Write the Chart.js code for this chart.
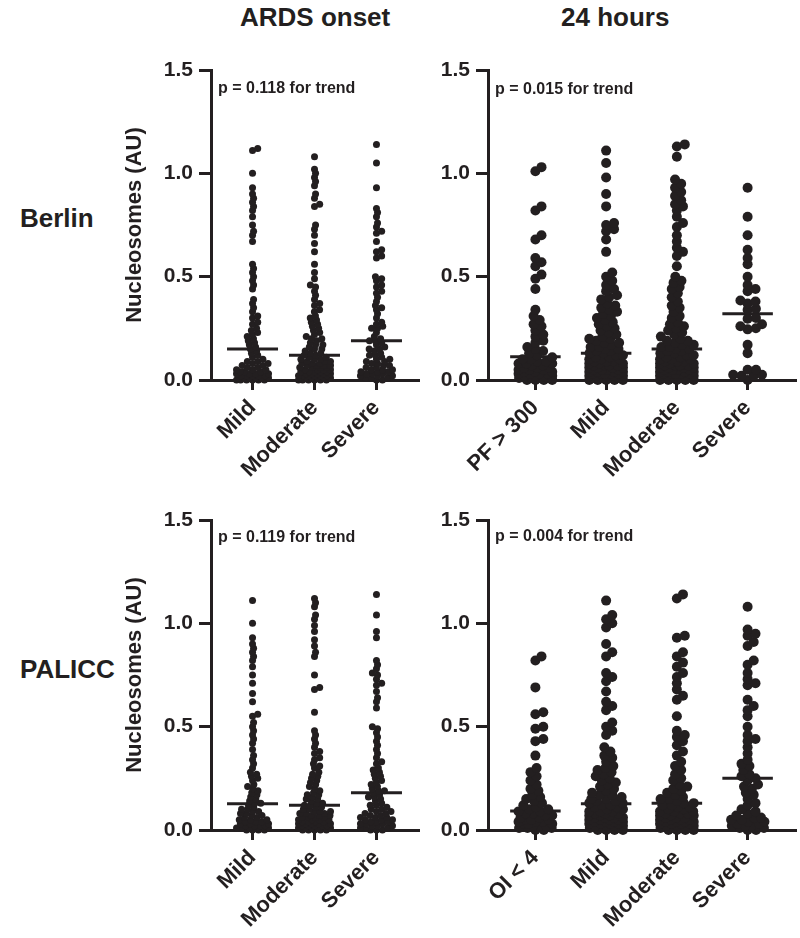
<!DOCTYPE html>
<html>
<head>
<meta charset="utf-8">
<script src="https://cdn.jsdelivr.net/npm/chart.js@4.4.1/dist/chart.umd.min.js"></script>
<style>
  body { margin: 0; background: #fff; width: 800px; height: 938px; position: relative; overflow: hidden;
         font-family: "Liberation Sans", Arial, sans-serif; color: #231f20; }
  .box { position: absolute; }
  .lbl { position: absolute; font-weight: bold; white-space: nowrap; line-height: 1; }
  .big { font-size: 26px; }
  .pv { font-size: 16px; }
</style>
</head>
<body>
<div class="lbl big" style="left:240px; top:4px;">ARDS onset</div>
<div class="lbl big" style="left:561px; top:4px;">24 hours</div>
<div class="lbl big" style="left:20px; top:205px;">Berlin</div>
<div class="lbl big" style="left:20px; top:656px;">PALICC</div>

<div class="box" style="left:100px; top:50px;"><canvas id="c1" width="330" height="440"></canvas></div>
<div class="box" style="left:380px; top:50px;"><canvas id="c2" width="420" height="440"></canvas></div>
<div class="box" style="left:100px; top:500px;"><canvas id="c3" width="330" height="440"></canvas></div>
<div class="box" style="left:380px; top:500px;"><canvas id="c4" width="420" height="440"></canvas></div>

<div class="lbl pv" style="left:218px; top:80px;">p = 0.118 for trend</div>
<div class="lbl pv" style="left:495px; top:81px;">p = 0.015 for trend</div>
<div class="lbl pv" style="left:218px; top:529px;">p = 0.119 for trend</div>
<div class="lbl pv" style="left:495px; top:528px;">p = 0.004 for trend</div>

<script>
const yTicks = [0, 0.5, 1.0, 1.5];
const onsetCats = ['Mild', 'Moderate', 'Severe'];
const pfCats = ['PF > 300', 'Mild', 'Moderate', 'Severe'];
const oiCats = ['OI < 4', 'Mild', 'Moderate', 'Severe'];

// Berlin, ARDS onset
const berlinOnsetMild = [1.12, 1.11, 1.00, 0.93, 0.90, 0.88, 0.86, 0.84, 0.82, 0.79, 0.75, 0.72, 0.70, 0.67, 0.56, 0.54, 0.52, 0.50, 0.48, 0.46, 0.44, 0.39, 0.37, 0.35, 0.33, 0.31, 0.30, 0.28, 0.27, 0.25, 0.24, 0.23, 0.22, 0.21, 0.20, 0.19, 0.18, 0.17, 0.16, 0.15, 0.14, 0.13, 0.12, 0.11, 0.10, 0.09, 0.09, 0.08, 0.08, 0.07, 0.07, 0.06, 0.06, 0.05, 0.05, 0.05, 0.04, 0.04, 0.04, 0.03, 0.03, 0.03, 0.03, 0.02, 0.02, 0.02, 0.02, 0.02, 0.01, 0.01, 0.01, 0.01, 0.01, 0.01, 0.00, 0.00, 0.00, 0.00, 0.00, 0.00];
const berlinOnsetModerate = [1.08, 1.02, 1.00, 0.98, 0.96, 0.94, 0.90, 0.88, 0.85, 0.84, 0.75, 0.73, 0.70, 0.66, 0.62, 0.56, 0.52, 0.49, 0.46, 0.45, 0.43, 0.41, 0.39, 0.37, 0.36, 0.34, 0.33, 0.31, 0.30, 0.29, 0.28, 0.27, 0.26, 0.25, 0.24, 0.23, 0.22, 0.21, 0.20, 0.20, 0.19, 0.18, 0.17, 0.17, 0.16, 0.15, 0.15, 0.14, 0.13, 0.13, 0.12, 0.12, 0.11, 0.11, 0.10, 0.10, 0.10, 0.09, 0.09, 0.09, 0.08, 0.08, 0.08, 0.07, 0.07, 0.07, 0.07, 0.06, 0.06, 0.06, 0.06, 0.05, 0.05, 0.05, 0.05, 0.04, 0.04, 0.04, 0.04, 0.04, 0.03, 0.03, 0.03, 0.03, 0.03, 0.02, 0.02, 0.02, 0.02, 0.02, 0.02, 0.01, 0.01, 0.01, 0.01, 0.01, 0.01, 0.00, 0.00, 0.00, 0.00, 0.00, 0.00];
const berlinOnsetSevere = [1.14, 1.05, 0.93, 0.83, 0.81, 0.79, 0.76, 0.74, 0.72, 0.71, 0.67, 0.63, 0.62, 0.60, 0.59, 0.50, 0.49, 0.48, 0.46, 0.45, 0.43, 0.42, 0.40, 0.38, 0.36, 0.35, 0.34, 0.32, 0.30, 0.28, 0.27, 0.26, 0.25, 0.25, 0.23, 0.21, 0.20, 0.19, 0.19, 0.18, 0.17, 0.16, 0.15, 0.15, 0.14, 0.13, 0.12, 0.12, 0.11, 0.10, 0.10, 0.09, 0.09, 0.08, 0.08, 0.07, 0.07, 0.06, 0.06, 0.05, 0.05, 0.05, 0.04, 0.04, 0.04, 0.03, 0.03, 0.03, 0.02, 0.02, 0.02, 0.01, 0.01, 0.01, 0.00, 0.00];
const berlinOnsetMedians = [0.15, 0.12, 0.19];

// Berlin, 24 hours
const berlin24Pf = [1.03, 1.01, 0.84, 0.82, 0.70, 0.68, 0.59, 0.57, 0.55, 0.51, 0.49, 0.44, 0.34, 0.31, 0.29, 0.27, 0.26, 0.24, 0.22, 0.21, 0.19, 0.18, 0.16, 0.15, 0.14, 0.13, 0.12, 0.11, 0.10, 0.10, 0.09, 0.09, 0.08, 0.08, 0.08, 0.07, 0.07, 0.06, 0.06, 0.06, 0.05, 0.05, 0.05, 0.04, 0.04, 0.04, 0.03, 0.03, 0.03, 0.03, 0.02, 0.02, 0.02, 0.02, 0.01, 0.01, 0.01, 0.01, 0.00, 0.00, 0.00, 0.00];
const berlin24Mild = [1.11, 1.05, 0.98, 0.90, 0.84, 0.76, 0.75, 0.73, 0.72, 0.68, 0.62, 0.52, 0.50, 0.48, 0.46, 0.44, 0.43, 0.41, 0.40, 0.39, 0.37, 0.36, 0.35, 0.34, 0.33, 0.32, 0.31, 0.30, 0.29, 0.28, 0.27, 0.26, 0.25, 0.24, 0.23, 0.22, 0.21, 0.20, 0.20, 0.19, 0.18, 0.18, 0.17, 0.16, 0.16, 0.15, 0.15, 0.14, 0.14, 0.13, 0.13, 0.12, 0.12, 0.11, 0.11, 0.10, 0.10, 0.10, 0.09, 0.09, 0.09, 0.08, 0.08, 0.08, 0.07, 0.07, 0.07, 0.07, 0.06, 0.06, 0.06, 0.06, 0.05, 0.05, 0.05, 0.05, 0.04, 0.04, 0.04, 0.04, 0.03, 0.03, 0.03, 0.03, 0.03, 0.02, 0.02, 0.02, 0.02, 0.02, 0.01, 0.01, 0.01, 0.01, 0.01, 0.00, 0.00, 0.00, 0.00, 0.00];
const berlin24Moderate = [1.14, 1.13, 1.08, 0.97, 0.95, 0.93, 0.91, 0.89, 0.87, 0.85, 0.84, 0.82, 0.79, 0.76, 0.74, 0.70, 0.67, 0.64, 0.62, 0.60, 0.55, 0.50, 0.48, 0.47, 0.45, 0.44, 0.42, 0.40, 0.38, 0.36, 0.35, 0.33, 0.31, 0.30, 0.28, 0.27, 0.26, 0.25, 0.24, 0.23, 0.22, 0.21, 0.20, 0.19, 0.19, 0.18, 0.17, 0.17, 0.16, 0.16, 0.15, 0.15, 0.14, 0.14, 0.13, 0.13, 0.12, 0.12, 0.11, 0.11, 0.10, 0.10, 0.10, 0.09, 0.09, 0.09, 0.08, 0.08, 0.08, 0.07, 0.07, 0.07, 0.07, 0.06, 0.06, 0.06, 0.06, 0.05, 0.05, 0.05, 0.05, 0.04, 0.04, 0.04, 0.04, 0.03, 0.03, 0.03, 0.03, 0.03, 0.02, 0.02, 0.02, 0.02, 0.02, 0.01, 0.01, 0.01, 0.01, 0.01, 0.00, 0.00, 0.00, 0.00, 0.00];
const berlin24Severe = [0.93, 0.79, 0.70, 0.63, 0.59, 0.56, 0.50, 0.46, 0.44, 0.43, 0.385, 0.38, 0.37, 0.345, 0.34, 0.30, 0.296, 0.27, 0.26, 0.25, 0.245, 0.17, 0.13, 0.05, 0.05, 0.025, 0.025, 0.02, 0.02, 0.00];
const berlin24Medians = [0.113, 0.13, 0.15, 0.32];

// PALICC, ARDS onset
const palicOnsetMild = [1.11, 1.00, 0.93, 0.90, 0.88, 0.86, 0.84, 0.82, 0.79, 0.75, 0.71, 0.66, 0.62, 0.56, 0.55, 0.52, 0.50, 0.48, 0.46, 0.44, 0.42, 0.39, 0.36, 0.34, 0.32, 0.30, 0.28, 0.27, 0.26, 0.25, 0.24, 0.22, 0.21, 0.20, 0.19, 0.18, 0.17, 0.16, 0.15, 0.14, 0.13, 0.13, 0.12, 0.11, 0.10, 0.10, 0.09, 0.09, 0.08, 0.08, 0.07, 0.07, 0.06, 0.06, 0.05, 0.05, 0.05, 0.04, 0.04, 0.04, 0.03, 0.03, 0.03, 0.02, 0.02, 0.02, 0.02, 0.01, 0.01, 0.01, 0.01, 0.00, 0.00, 0.00, 0.00];
const palicOnsetModerate = [1.12, 1.10, 1.08, 1.04, 1.02, 0.99, 0.96, 0.92, 0.89, 0.86, 0.84, 0.75, 0.69, 0.68, 0.57, 0.48, 0.46, 0.44, 0.42, 0.40, 0.38, 0.37, 0.35, 0.34, 0.32, 0.31, 0.30, 0.28, 0.27, 0.26, 0.25, 0.24, 0.23, 0.22, 0.21, 0.20, 0.19, 0.18, 0.17, 0.17, 0.16, 0.15, 0.15, 0.14, 0.13, 0.13, 0.12, 0.12, 0.11, 0.11, 0.10, 0.10, 0.09, 0.09, 0.09, 0.08, 0.08, 0.08, 0.07, 0.07, 0.07, 0.06, 0.06, 0.06, 0.06, 0.05, 0.05, 0.05, 0.05, 0.04, 0.04, 0.04, 0.04, 0.03, 0.03, 0.03, 0.03, 0.03, 0.02, 0.02, 0.02, 0.02, 0.02, 0.01, 0.01, 0.01, 0.01, 0.01, 0.00, 0.00, 0.00, 0.00, 0.00];
const palicOnsetSevere = [1.14, 1.04, 0.96, 0.93, 0.82, 0.80, 0.78, 0.76, 0.75, 0.73, 0.71, 0.70, 0.67, 0.64, 0.62, 0.59, 0.50, 0.49, 0.47, 0.45, 0.43, 0.41, 0.39, 0.37, 0.35, 0.33, 0.32, 0.30, 0.29, 0.28, 0.27, 0.26, 0.25, 0.24, 0.23, 0.22, 0.21, 0.20, 0.19, 0.19, 0.18, 0.17, 0.16, 0.16, 0.15, 0.14, 0.13, 0.12, 0.12, 0.11, 0.10, 0.10, 0.09, 0.09, 0.08, 0.08, 0.07, 0.07, 0.06, 0.06, 0.06, 0.05, 0.05, 0.05, 0.04, 0.04, 0.04, 0.03, 0.03, 0.03, 0.02, 0.02, 0.02, 0.01, 0.01, 0.01, 0.00, 0.00, 0.00];
const palicOnsetMedians = [0.127, 0.12, 0.18];

// PALICC, 24 hours
const palic24Oi = [0.84, 0.82, 0.69, 0.57, 0.56, 0.50, 0.49, 0.44, 0.43, 0.36, 0.30, 0.28, 0.26, 0.24, 0.22, 0.20, 0.19, 0.17, 0.16, 0.15, 0.14, 0.13, 0.12, 0.11, 0.10, 0.10, 0.09, 0.09, 0.08, 0.08, 0.07, 0.07, 0.06, 0.06, 0.05, 0.05, 0.05, 0.04, 0.04, 0.04, 0.03, 0.03, 0.03, 0.02, 0.02, 0.02, 0.01, 0.01, 0.01, 0.00, 0.00];
const palic24Mild = [1.11, 1.04, 1.02, 1.00, 0.98, 0.90, 0.86, 0.84, 0.76, 0.74, 0.72, 0.67, 0.62, 0.60, 0.58, 0.52, 0.50, 0.48, 0.46, 0.40, 0.38, 0.36, 0.35, 0.33, 0.31, 0.30, 0.29, 0.28, 0.27, 0.26, 0.25, 0.24, 0.23, 0.22, 0.21, 0.20, 0.19, 0.18, 0.17, 0.17, 0.16, 0.15, 0.15, 0.14, 0.14, 0.13, 0.13, 0.12, 0.12, 0.11, 0.11, 0.10, 0.10, 0.09, 0.09, 0.09, 0.08, 0.08, 0.08, 0.07, 0.07, 0.07, 0.06, 0.06, 0.06, 0.06, 0.05, 0.05, 0.05, 0.05, 0.04, 0.04, 0.04, 0.04, 0.03, 0.03, 0.03, 0.03, 0.02, 0.02, 0.02, 0.02, 0.01, 0.01, 0.01, 0.01, 0.00, 0.00, 0.00, 0.00];
const palic24Moderate = [1.14, 1.12, 0.94, 0.93, 0.86, 0.84, 0.81, 0.79, 0.76, 0.74, 0.71, 0.68, 0.65, 0.63, 0.55, 0.48, 0.46, 0.45, 0.43, 0.41, 0.38, 0.36, 0.33, 0.31, 0.29, 0.27, 0.25, 0.24, 0.22, 0.21, 0.20, 0.19, 0.18, 0.17, 0.16, 0.15, 0.15, 0.14, 0.13, 0.13, 0.12, 0.12, 0.11, 0.11, 0.10, 0.10, 0.09, 0.09, 0.09, 0.08, 0.08, 0.08, 0.07, 0.07, 0.07, 0.06, 0.06, 0.06, 0.05, 0.05, 0.05, 0.05, 0.04, 0.04, 0.04, 0.04, 0.03, 0.03, 0.03, 0.03, 0.02, 0.02, 0.02, 0.02, 0.01, 0.01, 0.01, 0.01, 0.00, 0.00, 0.00, 0.00];
const palic24Severe = [1.08, 0.97, 0.95, 0.94, 0.91, 0.89, 0.82, 0.80, 0.76, 0.73, 0.71, 0.70, 0.63, 0.60, 0.58, 0.55, 0.50, 0.46, 0.44, 0.43, 0.40, 0.37, 0.34, 0.32, 0.31, 0.29, 0.27, 0.26, 0.25, 0.24, 0.22, 0.21, 0.20, 0.18, 0.17, 0.15, 0.13, 0.12, 0.10, 0.09, 0.08, 0.07, 0.06, 0.06, 0.05, 0.05, 0.04, 0.04, 0.03, 0.03, 0.02, 0.02, 0.02, 0.01, 0.01, 0.00, 0.00];
const palic24Medians = [0.092, 0.127, 0.13, 0.25];

const ink = '#231f20';
const fontFam = '"Liberation Sans", Arial, sans-serif';
const plotH = 310;   // px of the 0..1.5 span

// beeswarm with some vertical overlap allowed and a capped half width,
// dots that do not fit go where they overlap least (dense blobs)
function swarm(values, r, xPx, maxHalf) {
  const ppu = plotH / 1.5;
  const sx = 2 * r * 0.85, sy = 2 * r * 0.6;
  const placed = [];
  values.slice().sort((a, b) => a - b).forEach(v => {
    const y = v * ppu;
    const near = placed.filter(p => Math.abs(p.y - y) < sy);
    const gap = c => Math.min(9, ...near.map(p => ((p.x - c) / sx) ** 2 + ((p.y - y) / sy) ** 2));
    const cands = [0];
    near.forEach(p => {
      const dx = sx * Math.sqrt(1 - ((p.y - y) / sy) ** 2);
      cands.push(p.x + dx, p.x - dx);
    });
    cands.sort((a, b) => Math.abs(a) - Math.abs(b));
    let x = cands.find(c => Math.abs(c) <= maxHalf && gap(c) >= 0.999);
    if (x === undefined) {
      let best = -1;
      for (let c = -maxHalf; c <= maxHalf + 1e-9; c += 0.5) {
        const g = gap(c);
        if (g > best + 1e-9 || (Math.abs(g - best) < 1e-9 && Math.abs(c) < Math.abs(x))) { best = g; x = c; }
      }
    }
    placed.push({ x: x, y: y, v: v });
  });
  return placed.map(p => ({ off: p.x / xPx, v: p.v }));
}

function makePanel(id, cats, groups, medians, wide, yTitle) {
  const n = cats.length;
  const r = wide ? 5 : 3.5;
  const yw = wide ? 108 : 111;
  const padRight = wide ? 2 : 12;
  const canvasW = wide ? 420 : 330;
  const maxHalf = wide ? 17 : 16;
  const xPx = (canvasW - yw - padRight) / (n + 0.34);
  const half = 25.5 / xPx;

  const pts = [];
  groups.forEach((g, i) => {
    swarm(g, r, xPx, maxHalf).forEach(p => pts.push({ x: i + 1 + p.off, y: p.v }));
  });

  const datasets = [{
    data: pts, pointRadius: r, pointBackgroundColor: ink, pointBorderWidth: 0, clip: false
  }];
  medians.forEach((m, i) => {
    datasets.push({
      data: [{ x: i + 1 - half, y: m }, { x: i + 1 + half, y: m }],
      showLine: true, borderColor: ink, borderWidth: 3, pointRadius: 0, clip: false
    });
  });

  new Chart(document.getElementById(id), {
    type: 'scatter',
    data: { datasets: datasets },
    options: {
      responsive: false, animation: false, events: [],
      layout: { padding: { left: 0, top: 20, right: padRight, bottom: 0 } },
      plugins: { legend: { display: false }, tooltip: { enabled: false } },
      scales: {
        x: {
          type: 'linear', min: 0.33, max: n + 0.67,
          afterBuildTicks: s => { s.ticks = cats.map((c, i) => ({ value: i + 1 })); },
          afterFit: s => { s.height = 110; },
          ticks: { callback: (v, i) => cats[i], color: ink, autoSkip: false,
                   minRotation: 45, maxRotation: 45, padding: 5,
                   font: { family: fontFam, size: 22, weight: 'bold' } },
          grid: { drawOnChartArea: false, color: ink, lineWidth: 3, tickLength: 10 },
          border: { color: ink, width: 3 }
        },
        y: {
          min: 0, max: 1.5,
          afterBuildTicks: s => { s.ticks = yTicks.map(v => ({ value: v })); },
          afterFit: s => { s.width = yw; },
          ticks: { callback: v => v.toFixed(1), color: ink, padding: 6,
                   font: { family: fontFam, size: 21, weight: 'bold' } },
          grid: { drawOnChartArea: false, color: ink, lineWidth: 3, tickLength: 12 },
          border: { color: ink, width: 3 },
          title: { display: yTitle, text: 'Nucleosomes (AU)', color: ink, padding: { top: 22, bottom: 0 },
                   font: { family: fontFam, size: 22, weight: 'bold' } }
        }
      }
    }
  });
}

makePanel('c1', onsetCats, [berlinOnsetMild, berlinOnsetModerate, berlinOnsetSevere], berlinOnsetMedians, false, true);
makePanel('c2', pfCats, [berlin24Pf, berlin24Mild, berlin24Moderate, berlin24Severe], berlin24Medians, true, false);
makePanel('c3', onsetCats, [palicOnsetMild, palicOnsetModerate, palicOnsetSevere], palicOnsetMedians, false, true);
makePanel('c4', oiCats, [palic24Oi, palic24Mild, palic24Moderate, palic24Severe], palic24Medians, true, false);
</script>
</body>
</html>
